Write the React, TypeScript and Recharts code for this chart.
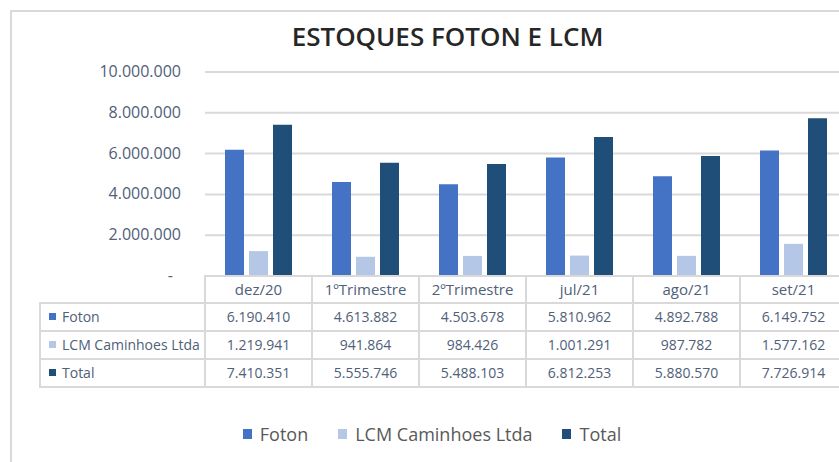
import React from 'react';
import { BarChart, Bar, XAxis, YAxis, CartesianGrid, Legend } from 'recharts';

const categories = ['dez/20', '1ºTrimestre', '2ºTrimestre', 'jul/21', 'ago/21', 'set/21'];
const foton = [6190410, 4613882, 4503678, 5810962, 4892788, 6149752];
const lcm = [1219941, 941864, 984426, 1001291, 987782, 1577162];
const total = [7410351, 5555746, 5488103, 6812253, 5880570, 7726914];
const yTicks = [0, 2000000, 4000000, 6000000, 8000000, 10000000];

const series = [
  { key: 'foton', name: 'Foton', color: '#4472C4', values: foton },
  { key: 'lcm', name: 'LCM Caminhoes Ltda', color: '#B4C7E7', values: lcm },
  { key: 'total', name: 'Total', color: '#1F4E79', values: total },
];

const data = categories.map((c, i) => ({ name: c, foton: foton[i], lcm: lcm[i], total: total[i] }));

const CHART_W = 847;
const CHART_H = 462;
const PLOT_LEFT = 205;
const COL_W = (CHART_W - PLOT_LEFT) / categories.length;
const LABEL_COL_W = 165;
const HEADER_H = 27;
const ROW_H = 28;
const FONT = '"Open Sans", "Noto Sans", sans-serif';
const TEXT_BLUE = '#4f6079';
const BORDER = '#d9d9d9';

// 1234567 -> 1.234.567
const fmt = (v: number) => String(Math.round(v)).replace(/\B(?=(\d{3})+(?!\d))/g, '.');

const YTick = (props: any) => {
  const { x, y, payload } = props;
  const zero = payload.value === 0;
  return (
    <text x={zero ? x - 8 : x} y={y} dy={5} textAnchor="end" fill={TEXT_BLUE} fontSize={16} fontFamily={FONT}>
      {zero ? '-' : fmt(payload.value)}
    </text>
  );
};

// each x tick draws its own column of the data table
const TableTick = (props: any) => {
  const { x, y, payload, index } = props;
  const left = x - COL_W / 2;
  return (
    <g>
      <rect x={left} y={y} width={COL_W} height={HEADER_H} fill="#fff" stroke={BORDER} strokeWidth={2} />
      <text x={x} y={y + 19} textAnchor="middle" fill={TEXT_BLUE} fontSize={15} fontFamily={FONT}>
        {payload.value}
      </text>
      {series.map((s, r) => {
        const top = y + HEADER_H + r * ROW_H;
        return (
          <g key={s.key}>
            <rect x={left} y={top} width={COL_W} height={ROW_H} fill="#fff" stroke={BORDER} strokeWidth={2} />
            <text x={x} y={top + 19} textAnchor="middle" fill={TEXT_BLUE} fontSize={14} fontFamily={FONT}>
              {fmt(s.values[index])}
            </text>
            {index === 0 && (
              <g>
                <rect x={left - LABEL_COL_W} y={top} width={LABEL_COL_W} height={ROW_H} fill="#fff" stroke={BORDER} strokeWidth={2} />
                <rect x={left - LABEL_COL_W + 9} y={top + 10} width={7} height={7} fill={s.color} />
                <text x={left - LABEL_COL_W + 22} y={top + 19} fill={TEXT_BLUE} fontSize={14} fontFamily={FONT}>
                  {s.name}
                </text>
              </g>
            )}
          </g>
        );
      })}
    </g>
  );
};

const LegendContent = () => (
  <div style={{ display: 'flex', justifyContent: 'center', alignItems: 'center', fontFamily: FONT, fontSize: 18, color: '#595959' }}>
    {series.map((s) => (
      <div key={s.key} style={{ display: 'flex', alignItems: 'center', margin: '0 15px' }}>
        <span style={{ display: 'inline-block', width: 9, height: 10, background: s.color, marginRight: 8 }} />
        <span>{s.name}</span>
      </div>
    ))}
  </div>
);

export default function App() {
  return (
    <div style={{ position: 'absolute', left: 0, top: 0, width: 839, height: 462, overflow: 'hidden', background: '#fff' }}>
      <div style={{ position: 'absolute', left: 10, top: 10, width: 900, height: 500, border: `2px solid ${BORDER}` }} />
      <div
        style={{
          position: 'absolute', left: 0, width: 895, top: 23, textAlign: 'center', fontFamily: FONT,
          fontSize: 26, fontWeight: 600, lineHeight: '26px', color: '#262626',
        }}
      >
        ESTOQUES FOTON E LCM
      </div>
      <div style={{ position: 'absolute', left: 0, top: 0 }}>
        <BarChart
          width={CHART_W}
          height={CHART_H}
          data={data}
          margin={{ top: 72, right: 0, left: 0, bottom: 0 }}
          barCategoryGap={20}
          barGap={5}
        >
          <CartesianGrid vertical={false} stroke={BORDER} strokeWidth={2} />
          <XAxis
            dataKey="name"
            height={CHART_H - 72 - 204}
            axisLine={false}
            tickLine={false}
            tickSize={0}
            tickMargin={0}
            interval={0}
            tick={<TableTick />}
          />
          <YAxis
            width={PLOT_LEFT}
            domain={[0, 10000000]}
            ticks={yTicks}
            axisLine={false}
            tickLine={false}
            tickSize={0}
            tickMargin={24}
            tick={<YTick />}
          />
          <Legend verticalAlign="middle" layout="horizontal" content={<LegendContent />} wrapperStyle={{ top: 422, left: 0, width: 864, height: 30 }} />
          {series.map((s) => (
            <Bar key={s.key} dataKey={s.key} name={s.name} fill={s.color} isAnimationActive={false} />
          ))}
        </BarChart>
      </div>
    </div>
  );
}
